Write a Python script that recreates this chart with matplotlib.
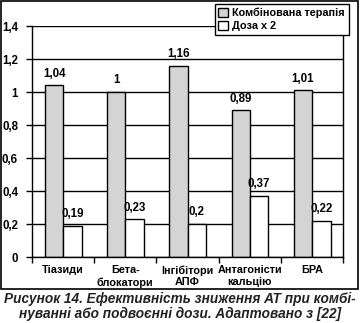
import numpy as np
import matplotlib.pyplot as plt
from matplotlib.patches import Patch, Rectangle

plt.rcParams['font.family'] = ['Liberation Sans', 'DejaVu Sans']
plt.rcParams['font.weight'] = 'bold'

# ---- data ----
categories = ['Тіазиди', 'Бета-\nблокатори', 'Інгібітори\nАПФ',
              'Антагоністи\nкальцію', 'БРА']
combined = [1.04, 1.00, 1.16, 0.89, 1.01]
double_dose = [0.19, 0.23, 0.20, 0.37, 0.22]
series_names = ['Комбінована терапія', 'Доза х 2']
y_ticks = [0, 0.2, 0.4, 0.6, 0.8, 1.0, 1.2, 1.4]

caption = ('Рисунок 14. Ефективність зниження АТ при комбі-\n'
           'нуванні або подвоєнні дози. Адаптовано з [22]')


def fmt(v):
    return f'{v:g}'.replace('.', ',')


fig = plt.figure(figsize=(3.6, 3.23), dpi=100)
ax = fig.add_axes([0.0889, 0.2043, 0.8639, 0.7152])

x = np.arange(len(categories))
w_gray, w_white = 0.29, 0.30

ax.set_axisbelow(True)
ax.grid(axis='y', color='black', linewidth=1.0)

b1 = ax.bar(x, combined, width=-w_gray, align='edge', color='#d4d4d4',
            edgecolor='black', linewidth=1.0, zorder=2)
b2 = ax.bar(x, double_dose, width=w_white, align='edge', color='white',
            edgecolor='black', linewidth=1.0, zorder=2)

for bars, vals in ((b1, combined), (b2, double_dose)):
    for r, v in zip(bars, vals):
        ax.annotate(fmt(v), (r.get_x() + r.get_width() / 2, v),
                    xytext=(0, 4), textcoords='offset points',
                    ha='center', va='bottom', fontsize=8.3,
                    fontweight='bold')

ax.set_xlim(-0.5, len(categories) - 0.5)
ax.set_ylim(0, 1.4)
ax.set_yticks(y_ticks)
ax.set_yticklabels([fmt(t) for t in y_ticks], fontsize=8.3, fontweight='bold')
ax.tick_params(axis='y', length=4, width=1, pad=6)

# tick marks between categories, labels under the category centres
ax.set_xticks(np.arange(-0.5, len(categories), 1.0))
ax.set_xticklabels([])
ax.tick_params(axis='x', which='major', length=4, width=1)
ax.set_xticks(x, minor=True)
ax.set_xticklabels(categories, minor=True, fontsize=7.8, fontweight='bold',
                   linespacing=1.2)
ax.tick_params(axis='x', which='minor', length=0, pad=6)

for s in ax.spines.values():
    s.set_linewidth(1.0)
ax.spines['top'].set_visible(False)

handles = [Patch(facecolor='#d4d4d4', edgecolor='black', linewidth=1.0),
           Patch(facecolor='white', edgecolor='black', linewidth=1.0)]
leg = fig.legend(handles, series_names, loc='upper right',
                 bbox_to_anchor=(0.969, 0.988), borderaxespad=0,
                 fancybox=False, edgecolor='black', framealpha=1,
                 prop={'size': 7.8, 'weight': 'bold'},
                 handlelength=0.85, handleheight=0.85, handletextpad=0.45,
                 labelspacing=0.3, borderpad=0.35)
leg.get_frame().set_linewidth(1.0)

# outer frame around the chart
fig.add_artist(Rectangle((0.003, 0.105), 0.992, 0.892, transform=fig.transFigure,
                         fill=False, edgecolor='black', linewidth=1.2))

fig.text(0.5, 0.052, caption, ha='center', va='center', fontsize=9.8,
         fontweight='bold', style='italic', color='#222222', linespacing=1.05)

fig.savefig('out.png', dpi=100)
